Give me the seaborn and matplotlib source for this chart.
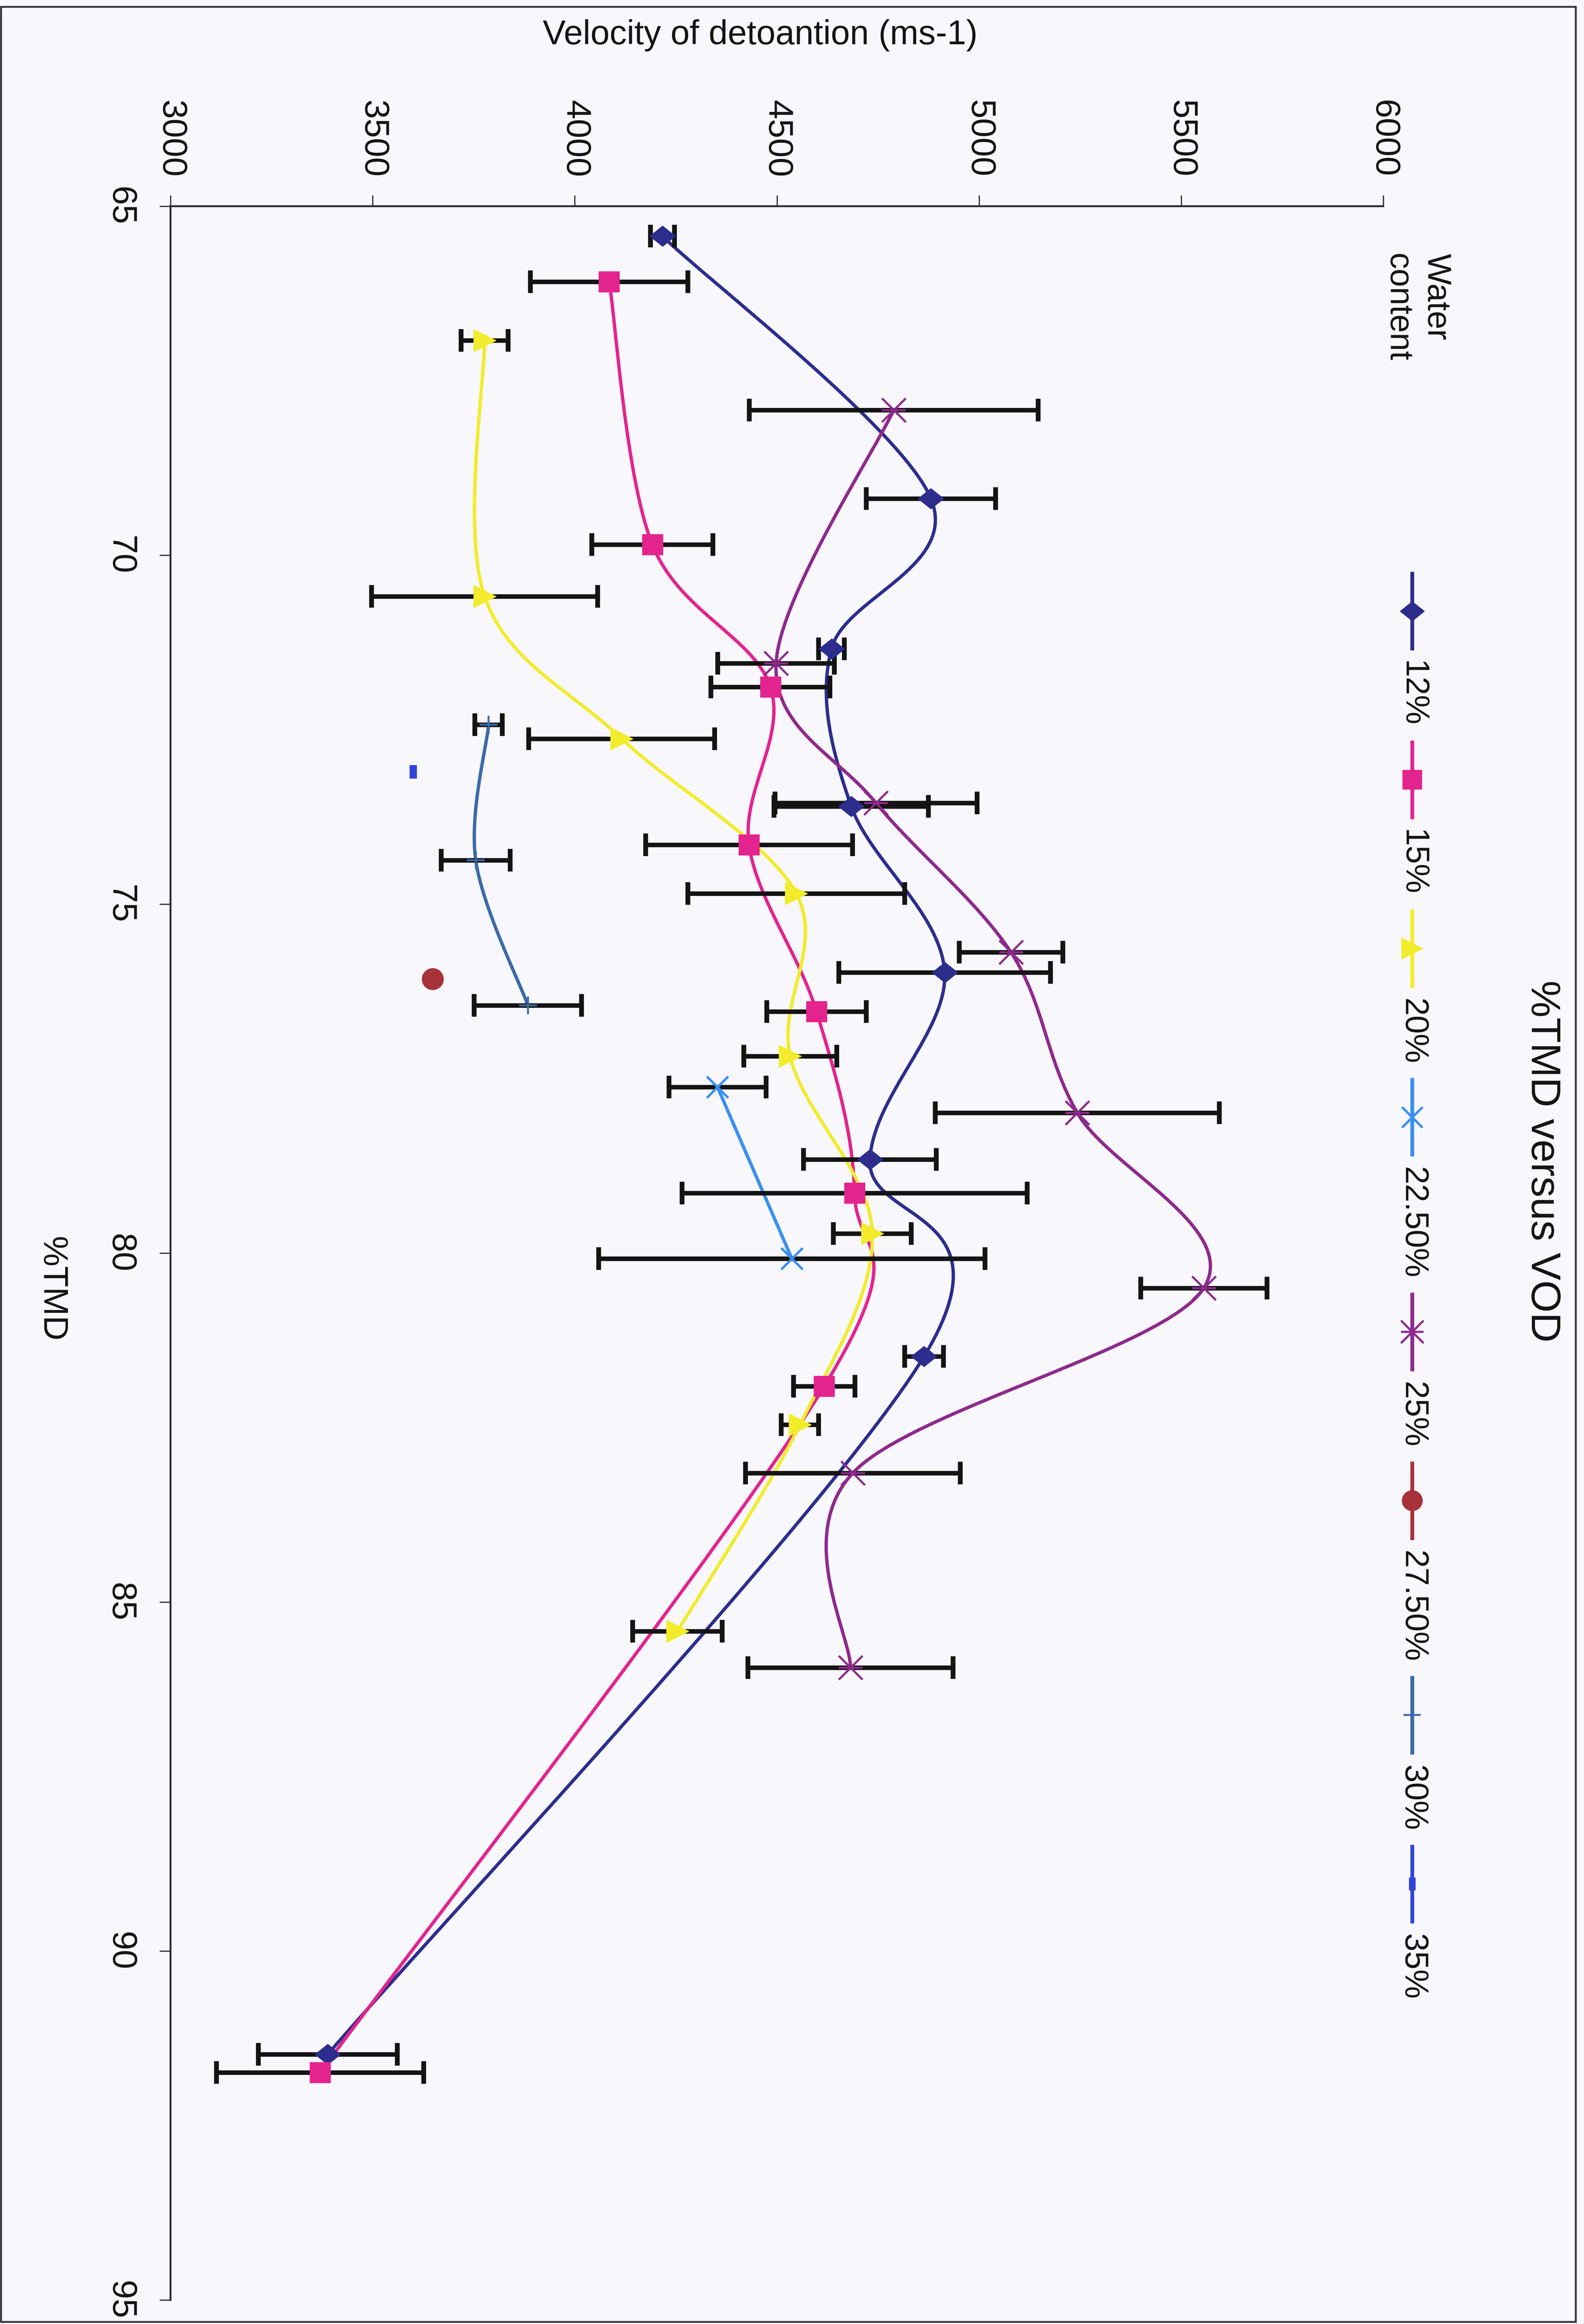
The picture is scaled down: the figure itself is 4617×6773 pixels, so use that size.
import numpy as np
import matplotlib
matplotlib.use("Agg")
import matplotlib.pyplot as plt
from matplotlib.path import Path
from matplotlib.patches import PathPatch, Rectangle
from matplotlib.lines import Line2D
import seaborn as sns

# ---------------------------------------------------------------------------
# Data: %TMD, velocity of detonation (m/s) and its spread, per water content
# ---------------------------------------------------------------------------
tmd_12 = [65.43, 69.19, 71.34, 73.60, 75.98, 78.66, 81.48, 91.48]
vod_12 = [4217, 4881, 4635, 4684, 4915, 4730, 4864, 3389]
err_12 = [30, 160, 32, 191, 262, 164, 48, 172]

tmd_15 = [66.08, 69.85, 71.89, 74.15, 76.54, 79.14, 81.91, 91.74]
vod_15 = [4085, 4192, 4484, 4431, 4598, 4692, 4617, 3370]
err_15 = [195, 150, 147, 256, 123, 427, 76, 256]

tmd_20 = [66.92, 70.59, 72.63, 74.85, 77.18, 79.72, 82.46, 85.42]
vod_20 = [3777, 3777, 4116, 4548, 4533, 4736, 4557, 4254]
err_20 = [58, 280, 230, 268, 115, 96, 46, 111]

tmd_225 = [77.62, 80.08]
vod_225 = [4353, 4537]
err_225 = [120, 478]

tmd_25 = [67.92, 71.55, 73.55, 75.69, 77.99, 80.50, 83.15, 85.94]
vod_25 = [4789, 4498, 4745, 5079, 5243, 5556, 4688, 4682]
err_25 = [357, 144, 250, 128, 351, 156, 266, 254]

tmd_275 = [76.07]
vod_275 = [3648]

tmd_30 = [72.43, 74.37, 76.45]
vod_30 = [3787, 3755, 3884]
err_30 = [34, 85, 133]

tmd_35 = [73.10]
vod_35 = [3600]

series_labels = ["12%", "15%", "20%", "22.50%", "25%", "27.50%", "30%", "35%"]
vod_ticks = [3000, 3500, 4000, 4500, 5000, 5500, 6000]
tmd_ticks = [65, 70, 75, 80, 85, 90, 95]

# ---------------------------------------------------------------------------
# Marker shapes
# ---------------------------------------------------------------------------
diamond = Path([(-0.6, 0), (0, -0.48), (0.6, 0), (0, 0.48), (-0.6, 0)],
               [Path.MOVETO, Path.LINETO, Path.LINETO, Path.LINETO, Path.CLOSEPOLY])
star = Path([(-1, -1), (1, 1), (-1, 1), (1, -1), (-1, 0), (1, 0)],
            [Path.MOVETO, Path.LINETO, Path.MOVETO, Path.LINETO, Path.MOVETO, Path.LINETO])
dash = Path([(-0.25, -0.5), (0.25, -0.5), (0.25, 0.5), (-0.25, 0.5), (-0.25, -0.5)],
            [Path.MOVETO, Path.LINETO, Path.LINETO, Path.LINETO, Path.CLOSEPOLY])

styles = [
    dict(color="#2c2d8c", marker=diamond, ms=54, filled=True, mew=1),
    dict(color="#e3248f", marker="s", ms=43, filled=True, mew=1),
    dict(color="#f2ec2c", marker=">", ms=47, filled=True, mew=1),
    dict(color="#3a8ff0", marker="x", ms=45, filled=False, mew=5),
    dict(color="#8e2a8c", marker=star, ms=50, filled=True, mew=4.5),
    dict(color="#a8323a", marker="o", ms=45, filled=True, mew=1),
    dict(color="#3a6aa8", marker="+", ms=38, filled=False, mew=4),
    dict(color="#2f44d6", marker=dash, ms=28, filled=True, mew=1),
]

series = [
    (vod_12, tmd_12, err_12),
    (vod_15, tmd_15, err_15),
    (vod_20, tmd_20, err_20),
    (vod_225, tmd_225, err_225),
    (vod_25, tmd_25, err_25),
    (vod_275, tmd_275, None),
    (vod_30, tmd_30, err_30),
    (vod_35, tmd_35, None),
]


def smooth_path(xs, ys):
    """Bezier path through the points (Catmull-Rom style smoothed line)."""
    pts = np.column_stack([xs, ys]).astype(float)
    n = len(pts)
    verts = [pts[0]]
    codes = [Path.MOVETO]
    if n == 2:
        verts.append(pts[1])
        codes.append(Path.LINETO)
        return Path(verts, codes)
    for i in range(n - 1):
        p0 = pts[i - 1] if i > 0 else pts[i]
        p1 = pts[i]
        p2 = pts[i + 1]
        p3 = pts[i + 2] if i + 2 < n else pts[i + 1]
        verts += [p1 + (p2 - p0) / 6.0, p2 - (p3 - p1) / 6.0, p2]
        codes += [Path.CURVE4] * 3
    return Path(verts, codes)


# ---------------------------------------------------------------------------
# Figure
# ---------------------------------------------------------------------------
sns.set_theme(style="white")
plt.rcParams["font.family"] = ["Liberation Sans", "DejaVu Sans"]

BG = "#f7f7fc"
INK = "#141414"
W, H = 4617, 6773
fig = plt.figure(figsize=(W / 100, H / 100), dpi=100, facecolor=BG)


def fx(px):
    return px / W


def fy(py):
    return 1 - py / H


ax_l, ax_r, ax_t, ax_b = 497, 4032, 601, 6703
ax = fig.add_axes([fx(ax_l), fy(ax_b), fx(ax_r) - fx(ax_l), fy(ax_t) - fy(ax_b)])
ax.set_facecolor(BG)

# smoothed series lines
for (vod, tmd, err), st in zip(series, styles):
    if len(vod) >= 2:
        ax.add_patch(PathPatch(smooth_path(vod, tmd), fill=False, edgecolor=st["color"],
                               linewidth=7, zorder=2, capstyle="round", joinstyle="round"))

# error bars
for vod, tmd, err in series:
    if err is not None:
        ax.errorbar(vod, tmd, xerr=err, fmt="none", ecolor=INK, elinewidth=9.5,
                    capsize=24, capthick=10, zorder=3)

# markers
for (vod, tmd, err), st in zip(series, styles):
    kws = dict(x=vod, y=tmd, ax=ax, marker=st["marker"], s=st["ms"] ** 2,
               color=st["color"], linewidth=st["mew"], zorder=4, legend=False)
    if st["filled"]:
        kws["edgecolor"] = st["color"]
    sns.scatterplot(**kws)

# axes: VOD across the top, %TMD down the left
ax.set_xlim(vod_ticks[0], vod_ticks[-1])
ax.set_ylim(tmd_ticks[-1], tmd_ticks[0])
ax.set_xticks(vod_ticks)
ax.set_yticks(tmd_ticks)
ax.xaxis.tick_top()
ax.tick_params(axis="x", top=True, bottom=False, labeltop=True, labelbottom=False,
               direction="out", length=23, width=2.5, pad=37, labelsize=73,
               labelrotation=-90, color="#2e2a33", labelcolor=INK)
ax.tick_params(axis="y", left=True, right=False, direction="out", length=23, width=2.5,
               pad=49, labelsize=73, labelrotation=-90, color="#2e2a33", labelcolor=INK)
for lbl in ax.get_yticklabels():
    lbl.set_va("center")
ax.grid(False)
for side in ("right", "bottom"):
    ax.spines[side].set_visible(False)
for side in ("top", "left"):
    ax.spines[side].set_color("#2e2a33")
    ax.spines[side].set_linewidth(4)

ax.set_xlabel("Velocity of detoantion (ms-1)", fontsize=72, color=INK)
ax.xaxis.set_label_position("top")
ax.xaxis.set_label_coords((2216 - ax_l) / (ax_r - ax_l), 1 + (ax_t - 103) / (ax_b - ax_t))
ax.xaxis.label.set_va("center")

ax.set_ylabel("%TMD", fontsize=72, rotation=-90, color=INK)
ax.yaxis.set_label_coords((150 - ax_l) / (ax_r - ax_l), 1 - (3757 - ax_t) / (ax_b - ax_t))
ax.yaxis.label.set_va("center")
ax.yaxis.label.set_ha("center")

# title
fig.text(fx(4495), fy(3384), "%TMD versus VOD", rotation=-90, ha="center", va="center",
         fontsize=87, color=INK)

# legend, laid out down the right-hand side
fig.text(fx(4130), fy(739), "Water\ncontent", rotation=-90, ha="center", va="top",
         multialignment="left", fontsize=69, linespacing=1.32, color=INK)

renderer = fig.canvas.get_renderer()
x_leg = 4116
y = 1666
handle_len = 229
for lab, st in zip(series_labels, styles):
    fig.add_artist(Line2D([fx(x_leg), fx(x_leg)], [fy(y), fy(y + handle_len)],
                          color=st["color"], linewidth=8, solid_capstyle="butt",
                          transform=fig.transFigure))
    mk = Line2D([fx(x_leg)], [fy(y + handle_len / 2)], linestyle="none",
                marker=st["marker"], markersize=st["ms"] * 0.95, color=st["color"],
                markerfacecolor=st["color"], markeredgecolor=st["color"],
                markeredgewidth=st["mew"], transform=fig.transFigure)
    fig.add_artist(mk)
    t = fig.text(fx(x_leg + 1), fy(y + handle_len + 31), lab, rotation=-90, ha="center",
                 va="top", fontsize=69, color=INK)
    bb = t.get_window_extent(renderer)
    y = (H - bb.y0) + 40

# outer frame of the page
fig.add_artist(Rectangle((fx(3), fy(6767)), fx(4593) - fx(3), fy(20) - fy(6767),
                         transform=fig.transFigure, fill=False, edgecolor="#3a3640",
                         linewidth=4))

fig.savefig("out.png", dpi=100, facecolor=BG)
